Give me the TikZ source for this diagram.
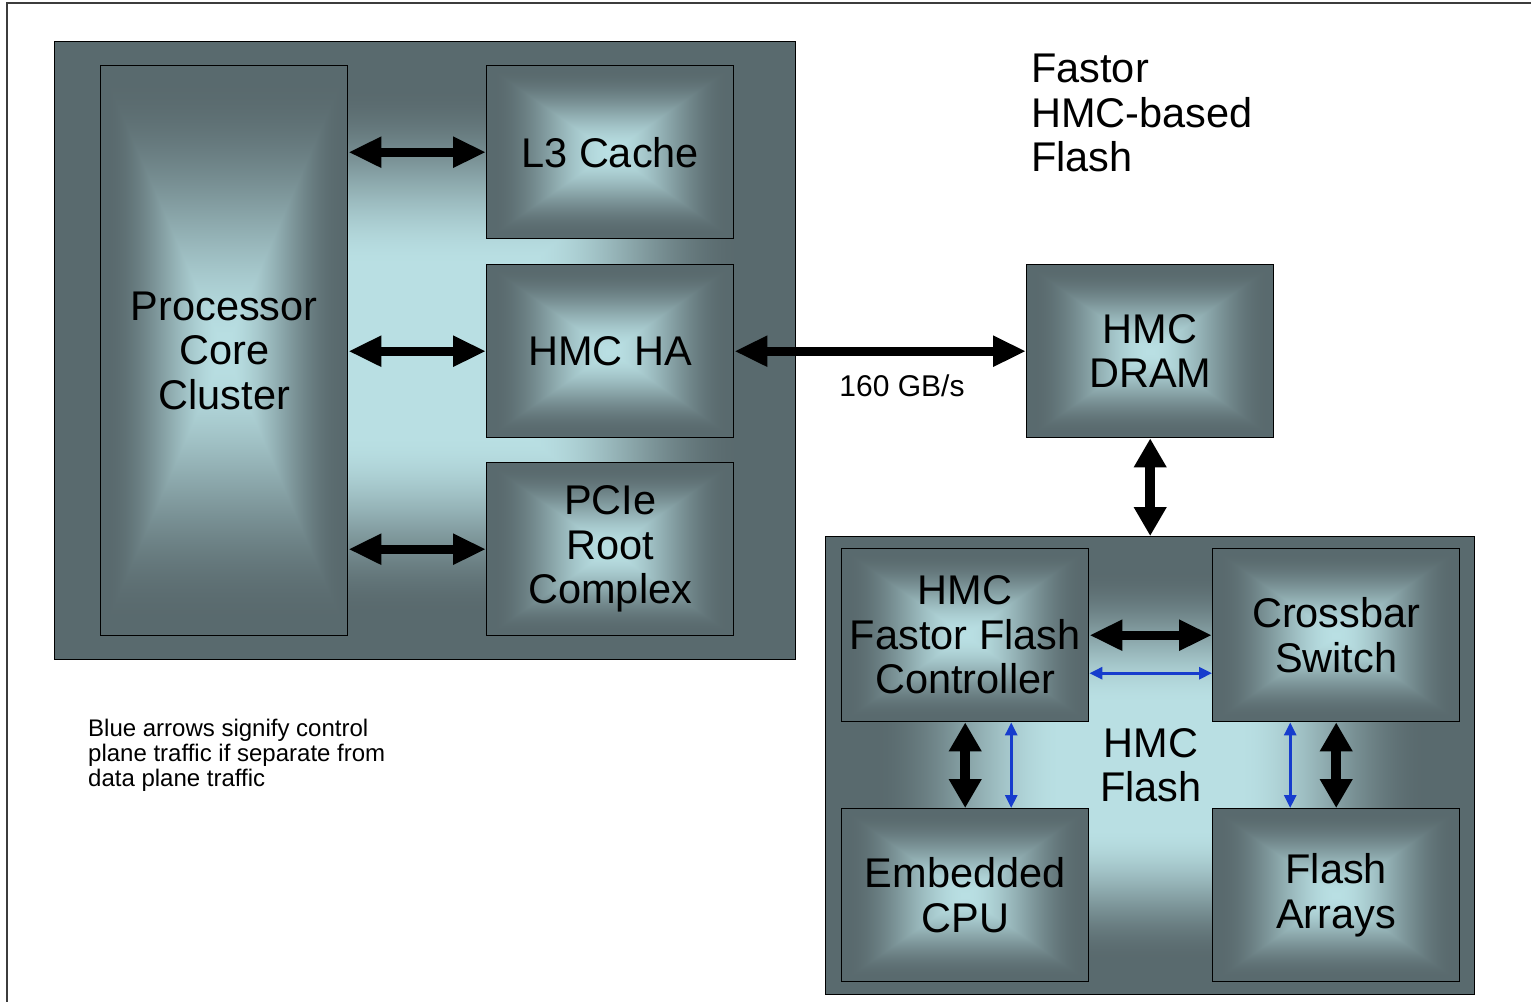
\documentclass[tikz,border=0pt]{standalone}
\usepackage{fontspec}
\setmainfont{Liberation Sans}
\usetikzlibrary{arrows.meta}

% rectangular "box" gradient: light centre, dark edges
% (TikZ maps the path bounding box onto the central 50bp square)
\pgfdeclarefunctionalshading{boxgrad}{\pgfpoint{-50bp}{-50bp}}{\pgfpoint{50bp}{50bp}}{}{
  abs exch abs 2 copy sub abs add add 50 div
  0.0 sub 1.0526 mul
  dup 1 sub abs neg add 1 add 2 div
  dup abs add 2 div
  dup dup mul exch 2 mul 3 exch sub mul
  dup -0.375 mul 0.725 add exch
  dup -0.46 mul 0.875 add exch
  -0.46 mul 0.89 add
}
\pgfdeclarefunctionalshading{contgrad}{\pgfpoint{-50bp}{-50bp}}{\pgfpoint{50bp}{50bp}}{}{
  abs exch abs 2 copy sub abs add add 50 div
  0.27 sub 1.7241 mul
  dup 1 sub abs neg add 1 add 2 div
  dup abs add 2 div
  dup dup mul exch 2 mul 3 exch sub mul
  dup -0.375 mul 0.725 add exch
  dup -0.46 mul 0.875 add exch
  -0.46 mul 0.89 add
}

\definecolor{ctrlblue}{RGB}{22,60,205}
\definecolor{framegray}{RGB}{60,60,60}
\newcommand\boxfont{\fontsize{41.5}{44.5}\selectfont}
\newcommand\midfont{\fontsize{30}{34}\selectfont}
\newcommand\smallfont{\fontsize{24}{25}\selectfont}

\begin{document}
\begin{tikzpicture}[x=1pt,y=-1pt,
  unitbox/.style={draw=black, line width=1.4pt, shade, shading=boxgrad, inner sep=0pt,
    align=center, font=\boxfont, anchor=north west,
    minimum width=247pt, minimum height=173pt},
  container/.style={draw=black, line width=1.4pt, shade, shading=contgrad, inner sep=0pt,
    anchor=north west},
  bigarrow/.style={draw=black, line width=9pt,
    arrows={Triangle[length=33pt,width=29pt]-Triangle[length=33pt,width=29pt]}},
  vertarrow/.style={draw=black, line width=10pt,
    arrows={Triangle[length=29pt,width=31pt]-Triangle[length=29pt,width=31pt]}},
  bluearrow/.style={draw=ctrlblue, line width=2.8pt,
    arrows={Triangle[length=13pt,width=12pt]-Triangle[length=13pt,width=12pt]}},
  plaintext/.style={inner sep=0pt, text=black}
]
\useasboundingbox (0,0) rectangle (1531,1002);

% frame
\coordinate (frTR) at (1531,3);
\coordinate (frTL) at (7,3);
\coordinate (frBL) at (7,1002);
\draw[line width=2pt, framegray] (frTR) -- (frTL) -- (frBL);

% processor side
\node[container, minimum width=741pt, minimum height=618pt] (proc) at (54,41) {};
\node[unitbox, minimum height=570pt] (cluster) at (100,65) {Processor\\Core\\Cluster};
\node[unitbox] (l3) at (486,65) {L3 Cache};
\node[unitbox] (ha) at (486,264) {HMC HA};
\node[unitbox] (pcie) at (486,462) {PCIe\\Root\\Complex};

% HMC DRAM
\node[unitbox] (dram) at (1026,264) {HMC\\DRAM};

% HMC Flash side
\node[container, minimum width=649pt, minimum height=458pt] (flashc) at (825,536) {};
\node[unitbox] (ctrl) at (841,548) {HMC\\Fastor Flash\\Controller};
\node[unitbox] (xbar) at (1212,548) {Crossbar\\Switch};
\node[unitbox] (cpu) at (841,808) {Embedded\\CPU};
\node[unitbox] (fa) at (1212,808) {Flash\\Arrays};
\node[plaintext, font=\boxfont, align=center] (flashlbl) at (1151,765) {HMC\\Flash};

% arrows
\draw[bigarrow] (cluster.east |- l3.west) -- (l3.west);
\draw[bigarrow] (cluster.east |- ha.west) -- (ha.west);
\draw[bigarrow] (cluster.east |- pcie.west) -- (pcie.west);
\draw[bigarrow] (ha.east) -- (dram.west);
\draw[vertarrow] (dram.south) -- (flashc.north);
\draw[bigarrow] (ctrl.east) -- (xbar.west);
\draw[bluearrow] ([yshift=-38pt]ctrl.east) -- ([yshift=-38pt]xbar.west);
\draw[vertarrow] (ctrl.south) -- (cpu.north);
\draw[bluearrow] ([xshift=46pt]ctrl.south) -- ([xshift=46pt]cpu.north);
\draw[vertarrow] (xbar.south) -- (fa.north);
\draw[bluearrow] ([xshift=-46pt]xbar.south) -- ([xshift=-46pt]fa.north);

% texts
\node[plaintext, font=\midfont] (bw) at (902,386) {160 GB/s};
\node[plaintext, font=\boxfont, align=left, anchor=north west] (title) at (1031,54)
  {Fastor\\HMC-based\\Flash};
\node[plaintext, font=\smallfont, align=left, anchor=north west] (legend) at (88,719)
  {Blue arrows signify control\\plane traffic if separate from\\data plane traffic};
\end{tikzpicture}
\end{document}
